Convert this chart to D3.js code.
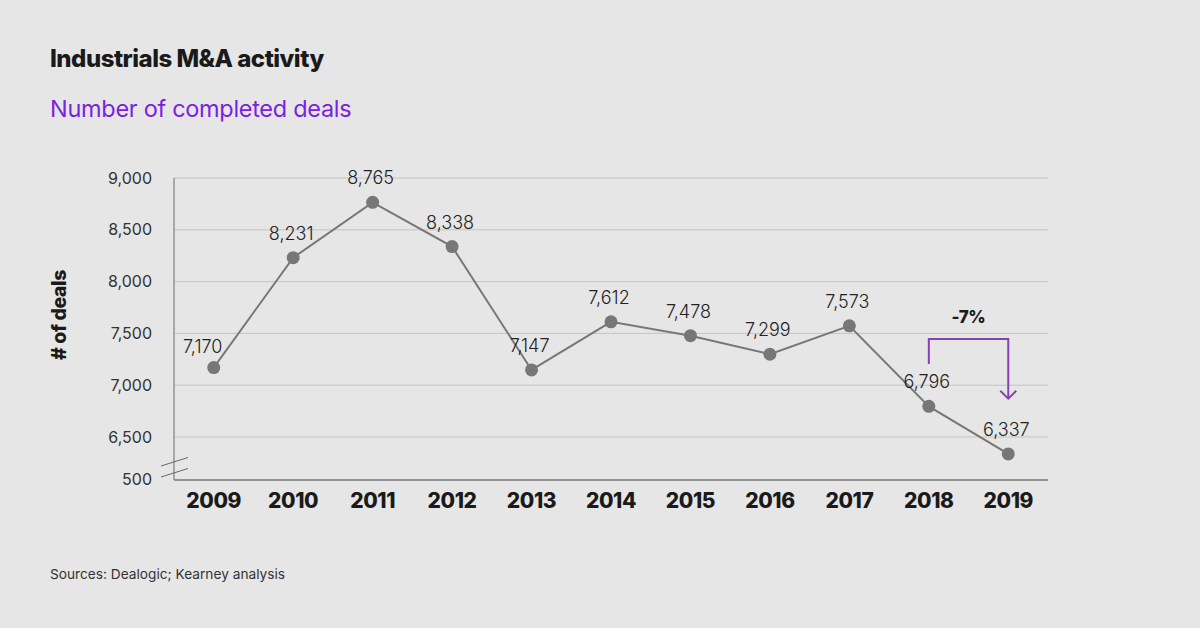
<!DOCTYPE html>
<html>
<head>
<meta charset="utf-8">
<script src="https://cdn.jsdelivr.net/npm/d3@7"></script>
<style>
  body { margin: 0; background: #e6e6e6; }
  svg { display: block; }
</style>
</head>
<body>
<div id="chart"></div>
<script>
var years = ["2009", "2010", "2011", "2012", "2013", "2014", "2015", "2016", "2017", "2018", "2019"];
var deals = [7170, 8231, 8765, 8338, 7147, 7612, 7478, 7299, 7573, 6796, 6337];
var yTicks = [6500, 7000, 7500, 8000, 8500, 9000];
var breakLabel = "500";
var changeLabel = "-7%";

var W = 1200, H = 628;
var font = "Inter, 'Noto Sans', sans-serif";

var svg = d3.select("#chart")
  .append("svg")
  .attr("width", W)
  .attr("height", H);

svg.append("rect").attr("width", W).attr("height", H).attr("fill", "#e6e6e6");

// titles
svg.append("text")
  .attr("x", 50).attr("y", 67)
  .attr("font-family", font).attr("font-weight", 800)
  .attr("font-size", 24).attr("letter-spacing", -0.5)
  .attr("fill", "#1a1a1a")
  .text("Industrials M&A activity");

svg.append("text")
  .attr("x", 50).attr("y", 117)
  .attr("font-family", font).attr("font-weight", 400)
  .attr("font-size", 23.5).attr("letter-spacing", -0.3)
  .attr("fill", "#7a22e0")
  .text("Number of completed deals");

svg.append("text")
  .attr("x", 50).attr("y", 579)
  .attr("font-family", font).attr("font-size", 13.7)
  .attr("fill", "#333")
  .text("Sources: Dealogic; Kearney analysis");

// scales
var left = 174, right = 1048, base = 480;

var x = d3.scaleBand()
  .domain(years)
  .range([left, right]);

var y = d3.scaleLinear()
  .domain([6500, 9000])
  .range([437, 178]);

function cx(d) { return x(d) + x.bandwidth() / 2; }

// gridlines
svg.append("g")
  .selectAll("line")
  .data(yTicks)
  .enter()
  .append("line")
  .attr("x1", left).attr("x2", right)
  .attr("y1", function(d) { return y(d); })
  .attr("y2", function(d) { return y(d); })
  .attr("stroke", "#c4c4c4")
  .attr("stroke-width", 1);

// y axis
var yAxis = svg.append("g")
  .attr("transform", "translate(" + left + ",0)")
  .call(d3.axisLeft(y).tickValues(yTicks).tickSize(0).tickPadding(22).tickFormat(d3.format(",")));
yAxis.select(".domain").remove();
yAxis.selectAll("text")
  .attr("font-family", font).attr("font-size", 16)
  .attr("fill", "#333");

svg.append("text")
  .attr("x", left - 22).attr("y", base)
  .attr("dy", "0.32em")
  .attr("text-anchor", "end")
  .attr("font-family", font).attr("font-size", 16)
  .attr("fill", "#333")
  .text(breakLabel);

svg.append("line")
  .attr("x1", left).attr("x2", left)
  .attr("y1", y(9000)).attr("y2", base)
  .attr("stroke", "#a8a8a8").attr("stroke-width", 2);

// axis break marks
[0, 11].forEach(function(off) {
  svg.append("line")
    .attr("x1", left - 13).attr("y1", 466 + off)
    .attr("x2", left + 14).attr("y2", 457.5 + off)
    .attr("stroke", "#666").attr("stroke-width", 1);
});

// baseline + x axis
svg.append("line")
  .attr("x1", left).attr("x2", right)
  .attr("y1", base).attr("y2", base)
  .attr("stroke", "#777").attr("stroke-width", 1.5);

svg.append("g")
  .selectAll("text")
  .data(years)
  .enter()
  .append("text")
  .attr("x", cx)
  .attr("y", 508)
  .attr("text-anchor", "middle")
  .attr("font-family", font).attr("font-weight", 800)
  .attr("font-size", 21).attr("letter-spacing", -0.4)
  .attr("fill", "#1a1a1a")
  .text(function(d) { return d; });

svg.append("text")
  .attr("transform", "translate(66,315) rotate(-90)")
  .attr("text-anchor", "middle")
  .attr("font-family", font).attr("font-weight", 800)
  .attr("font-size", 19.5).attr("letter-spacing", -0.4)
  .attr("fill", "#1a1a1a")
  .text("# of deals");

// line + dots
var pts = years.map(function(d, i) { return { year: d, value: deals[i] }; });

svg.append("path")
  .datum(pts)
  .attr("fill", "none")
  .attr("stroke", "#777")
  .attr("stroke-width", 2)
  .attr("d", d3.line()
    .x(function(d) { return cx(d.year); })
    .y(function(d) { return y(d.value); }));

svg.append("g")
  .selectAll("circle")
  .data(pts)
  .enter()
  .append("circle")
  .attr("cx", function(d) { return cx(d.year); })
  .attr("cy", function(d) { return y(d.value); })
  .attr("r", 6.5)
  .attr("fill", "#777");

svg.append("g")
  .selectAll("text")
  .data(pts)
  .enter()
  .append("text")
  .attr("x", function(d, i) { return cx(d.year) + (i === 0 ? -11 : -2); })
  .attr("y", function(d, i) { return y(d.value) - (i === 0 ? 15 : 18); })
  .attr("text-anchor", "middle")
  .attr("font-family", font).attr("font-weight", 300)
  .attr("font-size", 18)
  .attr("fill", "#222")
  .text(function(d) { return d3.format(",")(d.value); });

// -7% annotation
var purple = "#8a3fb2";
var xa = cx("2018"), xb = cx("2019");
var yTop = y(7446), yStart = y(7205), yEnd = y(6870);
svg.append("path")
  .attr("d", "M" + xa + "," + yStart + "V" + yTop + "H" + xb + "V" + yEnd)
  .attr("fill", "none")
  .attr("stroke", purple).attr("stroke-width", 2);
svg.append("path")
  .attr("d", "M" + (xb - 8) + "," + (yEnd - 8) + "L" + xb + "," + yEnd + "L" + (xb + 8) + "," + (yEnd - 8))
  .attr("fill", "none")
  .attr("stroke", purple).attr("stroke-width", 2);

svg.append("text")
  .attr("x", (xa + xb) / 2).attr("y", yTop - 16)
  .attr("text-anchor", "middle")
  .attr("font-family", font).attr("font-weight", 800)
  .attr("font-size", 17).attr("letter-spacing", -0.3)
  .attr("fill", "#1a1a1a")
  .text(changeLabel);
</script>
</body>
</html>
